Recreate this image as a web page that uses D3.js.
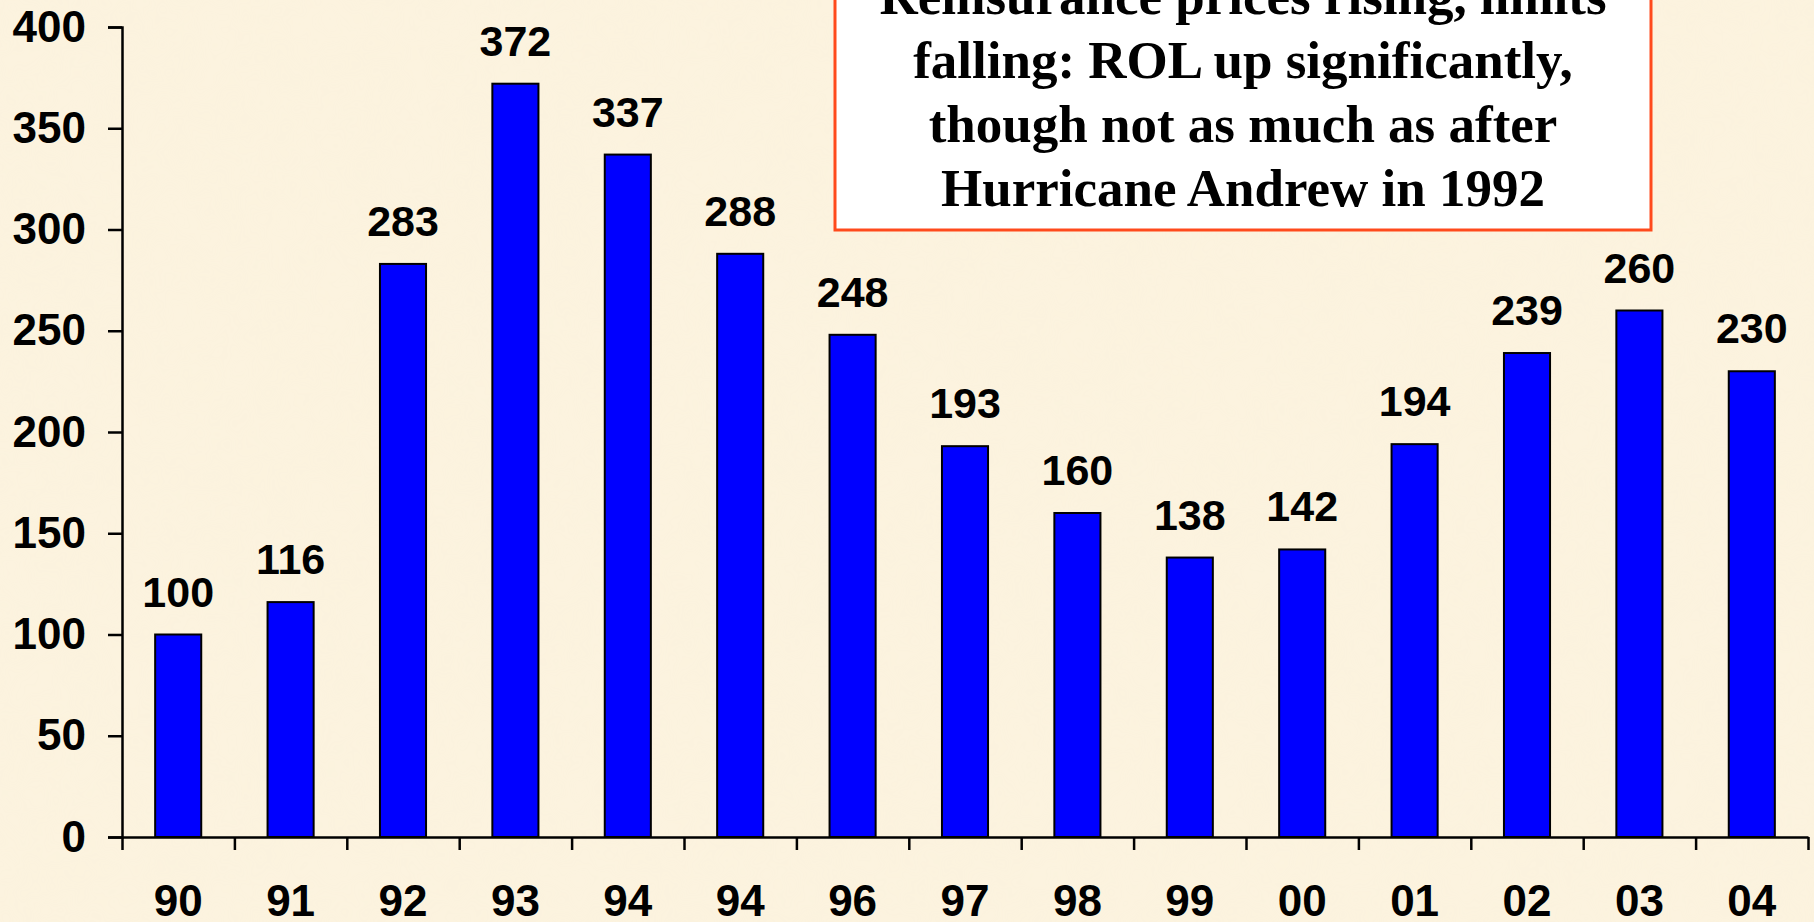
<!DOCTYPE html>
<html>
<head>
<meta charset="utf-8">
<script src="https://cdn.jsdelivr.net/npm/d3@7"></script>
<style>
  html, body { margin: 0; padding: 0; background: #FBF1DB; overflow: hidden; }
  svg { display: block; }
</style>
</head>
<body>
<script>
// ROL index by year (1990 = 100)
const years = ['90', '91', '92', '93', '94', '94', '96', '97', '98', '99', '00', '01', '02', '03', '04'];
const rol = [100, 116, 283, 372, 337, 288, 248, 193, 160, 138, 142, 194, 239, 260, 230];
const yTicks = [0, 50, 100, 150, 200, 250, 300, 350, 400];
const noteLines = [
  'Reinsurance prices rising, limits',
  'falling: ROL up significantly,',
  'though not as much as after',
  'Hurricane Andrew in 1992'
];

const width = 1814, height = 922;
const margin = { top: 27, right: 6, bottom: 85, left: 122 };
const sans = '"Liberation Sans", Arial, sans-serif';

const svg = d3.select('body').append('svg')
  .attr('width', width)
  .attr('height', height);

// parchment-ish background with a faint texture
const defs = svg.append('defs');
const f = defs.append('filter').attr('id', 'paper').attr('x', 0).attr('y', 0).attr('width', '100%').attr('height', '100%');
f.append('feTurbulence').attr('type', 'fractalNoise').attr('baseFrequency', 0.02).attr('numOctaves', 3).attr('seed', 4);
f.append('feColorMatrix').attr('type', 'matrix')
  .attr('values', '0 0 0 0 0.93  0 0 0 0 0.86  0 0 0 0 0.68  0 0 0 0.35 0');
svg.append('rect').attr('width', width).attr('height', height).attr('fill', '#FCF3DF');
svg.append('rect').attr('width', width).attr('height', height).attr('filter', 'url(#paper)').attr('opacity', 0.35);

const x = d3.scaleBand()
  .domain(d3.range(years.length))
  .range([margin.left, width - margin.right]);

// category boundaries for the x tick marks
const xEdge = d3.scaleLinear()
  .domain([0, years.length])
  .range([margin.left, width - margin.right]);

const y = d3.scaleLinear()
  .domain([0, 400])
  .range([height - margin.bottom, margin.top]);

const barW = x.step() * 0.41;

// bars
svg.append('g')
  .selectAll('rect')
  .data(rol)
  .join('rect')
    .attr('x', (d, i) => x(i) + (x.bandwidth() - barW) / 2)
    .attr('y', d => y(d))
    .attr('width', barW)
    .attr('height', d => y(0) - y(d))
    .attr('fill', '#0000FF')
    .attr('stroke', '#000')
    .attr('stroke-width', 2);

// value labels
svg.append('g')
  .selectAll('text')
  .data(rol)
  .join('text')
    .attr('x', (d, i) => x(i) + x.bandwidth() / 2)
    .attr('y', d => y(d) - 28)
    .attr('text-anchor', 'middle')
    .attr('font-family', sans)
    .attr('font-weight', 'bold')
    .attr('font-size', 43)
    .attr('fill', '#000')
    .text(d => d);

// y axis
svg.append('g')
  .attr('transform', `translate(${margin.left},0)`)
  .call(d3.axisLeft(y).tickValues(yTicks).tickSize(14).tickPadding(22))
  .call(g => g.selectAll('path, line').attr('stroke', '#000').attr('stroke-width', 2.5))
  .call(g => g.selectAll('text')
    .attr('font-family', sans).attr('font-weight', 'bold').attr('font-size', 44).attr('fill', '#000'));

// x axis: tick marks at the category edges
svg.append('g')
  .attr('transform', `translate(0,${y(0)})`)
  .call(d3.axisBottom(xEdge).tickValues(d3.range(years.length + 1)).tickSize(13).tickSizeOuter(0).tickFormat(''))
  .call(g => g.selectAll('path, line').attr('stroke', '#000').attr('stroke-width', 2.5));

// x axis: labels centred on bars
svg.append('g')
  .attr('transform', `translate(0,${y(0)})`)
  .call(d3.axisBottom(x).tickSize(0).tickPadding(48).tickFormat(i => years[i]))
  .call(g => g.select('.domain').remove())
  .call(g => g.selectAll('text')
    .attr('font-family', sans).attr('font-weight', 'bold').attr('font-size', 44).attr('fill', '#000'));

// annotation box
const note = svg.append('g');
note.append('rect')
  .attr('x', 835)
  .attr('y', -40)
  .attr('width', 816)
  .attr('height', 270)
  .attr('fill', '#fff')
  .attr('stroke', '#FF4A1C')
  .attr('stroke-width', 3);

note.selectAll('text')
  .data(noteLines)
  .join('text')
    .attr('x', 1243)
    .attr('y', (d, i) => 14 + i * 64)
    .attr('text-anchor', 'middle')
    .attr('font-family', '"Liberation Serif", "Times New Roman", serif')
    .attr('font-weight', 'bold')
    .attr('font-size', 53)
    .attr('fill', '#000')
    .text(d => d);
</script>
</body>
</html>
